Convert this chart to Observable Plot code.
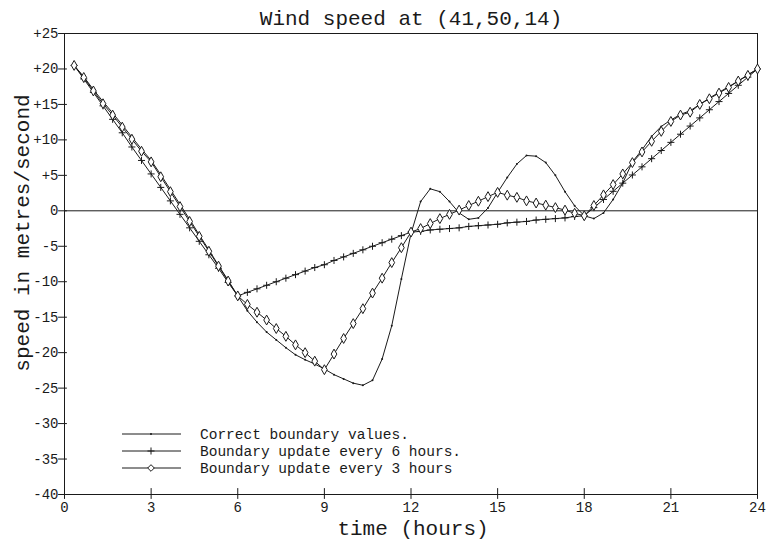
<!DOCTYPE html>
<html>
<head>
<meta charset="utf-8">
<script src="https://cdn.jsdelivr.net/npm/d3@7"></script>
<script src="https://cdn.jsdelivr.net/npm/@observablehq/plot@0.6"></script>
<style>
  html, body { margin: 0; padding: 0; background: #fff; }
  #wrap { position: relative; width: 766px; height: 544px; }
  #legend { position: absolute; left: 0; top: 0; pointer-events: none; }
</style>
</head>
<body>
<div id="wrap"></div>
<script>
// time grid: every 20 minutes from 0:20 to 24:00
const hours = Array.from({length: 72}, (_, i) => (i + 1) / 3);

const correct = [
  20.5, 18.9, 17.1, 15.4, 13.8, 12.1, 10.4, 8.7, 7.1, 5.1, 3.0, 0.9, -1.2, -3.4, -5.5, -7.7, -9.8, -12.0,
  -14.1, -15.7, -17.1, -18.2, -19.3, -20.3, -21.0, -21.6, -22.3, -23.1, -23.7, -24.3, -24.6, -23.9, -20.9, -16.2, -9.6, -3.2,
  1.3, 3.1, 2.7, 1.3, -0.3, -1.2, -1.0, 0.4, 2.6, 4.7, 6.6, 7.8, 7.7, 6.8, 5.0, 2.7, 0.7, -0.7,
  -1.1, -0.3, 1.6, 3.9, 6.9, 8.6, 10.5, 11.9, 12.8, 13.6, 14.1, 15.0, 15.9, 16.7, 17.5, 18.3, 19.2, 20.0
];

const update6h = [
  20.5, 18.6, 16.7, 14.8, 12.9, 11.0, 9.0, 7.1, 5.2, 3.3, 1.4, -0.5, -2.4, -4.3, -6.2, -8.1, -10.1, -12.0,
  -11.5, -11.0, -10.5, -10.0, -9.5, -9.0, -8.5, -8.0, -7.6, -7.0, -6.5, -6.0, -5.5, -5.0, -4.5, -4.0, -3.5, -3.0,
  -2.9, -2.7, -2.6, -2.5, -2.4, -2.2, -2.1, -2.0, -1.9, -1.7, -1.6, -1.5, -1.3, -1.2, -1.1, -1.0, -0.8, -0.7,
  0.45, 1.6, 2.75, 3.9, 5.05, 6.2, 7.35, 8.5, 9.65, 10.8, 11.95, 13.1, 14.25, 15.4, 16.55, 17.7, 18.85, 20.0
];

const update3h = [
  20.5, 18.8, 16.9, 15.1, 13.5, 11.8, 10.1, 8.4, 6.9, 4.8, 2.7, 0.6, -1.5, -3.6, -5.7, -7.8, -9.9, -12.0,
  -13.2, -14.3, -15.4, -16.6, -17.7, -18.9, -20.0, -21.2, -22.4, -20.2, -18.0, -15.9, -13.8, -11.6, -9.5, -7.3, -5.2, -3.0,
  -2.5, -1.8, -1.1, -0.5, 0.1, 0.75, 1.35, 2.0, 2.6, 2.2, 1.9, 1.4, 1.1, 0.8, 0.45, 0.1, -0.35, -0.7,
  0.75, 2.25, 3.7, 5.2, 6.8, 8.3, 9.8, 11.2, 12.6, 13.5, 13.9, 15.0, 15.8, 16.6, 17.4, 18.3, 19.1, 20.0
];

const xTicks = [0, 3, 6, 9, 12, 15, 18, 21, 24];
const yTicks = [25, 20, 15, 10, 5, 0, -5, -10, -15, -20, -25, -30, -35, -40];
const yTickLabels = ["+25", "+20", "+15", "+10", "+5", "0", "-5", "-10", "-15", "-20", "-25", "-30", "-35", "-40"];

const titleText = "Wind speed at (41,50,14)";
const xLabel = "time (hours)";
const yLabel = "speed in metres/second";
const seriesNames = ["Correct boundary values.", "Boundary update every 6 hours.", "Boundary update every 3 hours"];

const toRows = (vals) => hours.map((t, i) => ({t, v: vals[i]}));
const rowsC = toRows(correct), rows6 = toRows(update6h), rows3 = toRows(update3h);

const FONT = "'Liberation Mono', 'DejaVu Sans Mono', monospace";
const INK = "#1a1a1a";

// plain line segment used as a tick mark
const tickShape = {
  draw(context, l) {
    context.moveTo(0, 0);
    context.lineTo(0, -l);
  }
};

const chart = Plot.plot({
  width: 766,
  height: 544,
  marginLeft: 64,
  marginRight: 9,
  marginTop: 33,
  marginBottom: 50,
  style: {fontFamily: FONT, fontSize: "14px", color: INK, background: "#fff"},
  x: {domain: [0, 24]},
  y: {domain: [-40, 25]},
  marks: [
    Plot.ruleY([0], {stroke: INK, strokeWidth: 1}),
    Plot.frame({stroke: INK, strokeWidth: 1}),
    Plot.axisX(xTicks, {tickSize: 0, tickPadding: 8, fontSize: 14, label: null}),
    Plot.axisY(yTicks, {tickSize: 0, tickPadding: 6, fontSize: 14, label: null,
      tickFormat: (d) => yTickLabels[yTicks.indexOf(d)]}),
    Plot.vector(xTicks, {x: (d) => d, y: () => -40, length: 10, rotate: 0, anchor: "middle", dy: -1,
      shape: tickShape, stroke: INK, strokeWidth: 1}),
    Plot.vector(yTicks, {x: () => 0, y: (d) => d, length: 8, rotate: 90, anchor: "middle", dx: -2,
      shape: tickShape, stroke: INK, strokeWidth: 1}),
    Plot.line(rowsC, {x: "t", y: "v", stroke: INK, strokeWidth: 1}),
    Plot.dot(rowsC, {x: "t", y: "v", r: 1, fill: INK, stroke: null}),
    Plot.line(rows6, {x: "t", y: "v", stroke: INK, strokeWidth: 1}),
    Plot.dot(rows6, {x: "t", y: "v", symbol: "plus", r: 2.4, stroke: INK, strokeWidth: 1}),
    Plot.line(rows3, {x: "t", y: "v", stroke: INK, strokeWidth: 1}),
    Plot.dot(rows3, {x: "t", y: "v", symbol: "diamond", r: 3.0, stroke: INK, fill: "white", strokeWidth: 1}),
    Plot.text([titleText], {frameAnchor: "top", lineAnchor: "middle", textAnchor: "middle", dy: -15, fontSize: 21, fill: INK}),
    Plot.text([xLabel], {frameAnchor: "bottom", lineAnchor: "middle", textAnchor: "middle", dy: 34, dx: 2, fontSize: 21, fill: INK}),
    Plot.text([yLabel], {frameAnchor: "left", lineAnchor: "middle", textAnchor: "middle", rotate: -90, dx: -42, dy: -31, fontSize: 21, fill: INK})
  ]
});

const wrap = document.getElementById("wrap");
wrap.appendChild(chart);

// legend overlay inside the plot area
const legendRows = [
  {name: seriesNames[0], symbol: "dot", y: 434},
  {name: seriesNames[1], symbol: "plus", y: 451},
  {name: seriesNames[2], symbol: "diamond", y: 468}
];
const lg = d3.select(wrap).append("svg")
  .attr("id", "legend").attr("width", 766).attr("height", 544);
const row = lg.selectAll("g").data(legendRows).join("g")
  .attr("transform", (d) => `translate(0,${d.y})`);
row.append("line").attr("x1", 122).attr("x2", 181).attr("y1", 0).attr("y2", 0)
  .attr("stroke", INK).attr("stroke-width", 1);
row.filter((d) => d.symbol === "dot").append("circle").attr("cx", 151).attr("cy", 0).attr("r", 1).attr("fill", INK);
row.filter((d) => d.symbol === "plus").append("path")
  .attr("d", d3.symbol(d3.symbolPlus, 18)()).attr("transform", "translate(151,0)")
  .attr("fill", "none").attr("stroke", INK).attr("stroke-width", 1);
row.filter((d) => d.symbol === "diamond").append("path")
  .attr("d", d3.symbol(d3.symbolDiamond2, 28)()).attr("transform", "translate(151,0)")
  .attr("fill", "white").attr("stroke", INK);
row.append("text").attr("x", 200).attr("y", 0).attr("dy", "0.35em")
  .attr("font-family", FONT).attr("font-size", 14.5).attr("fill", INK)
  .text((d) => d.name);
</script>
</body>
</html>
